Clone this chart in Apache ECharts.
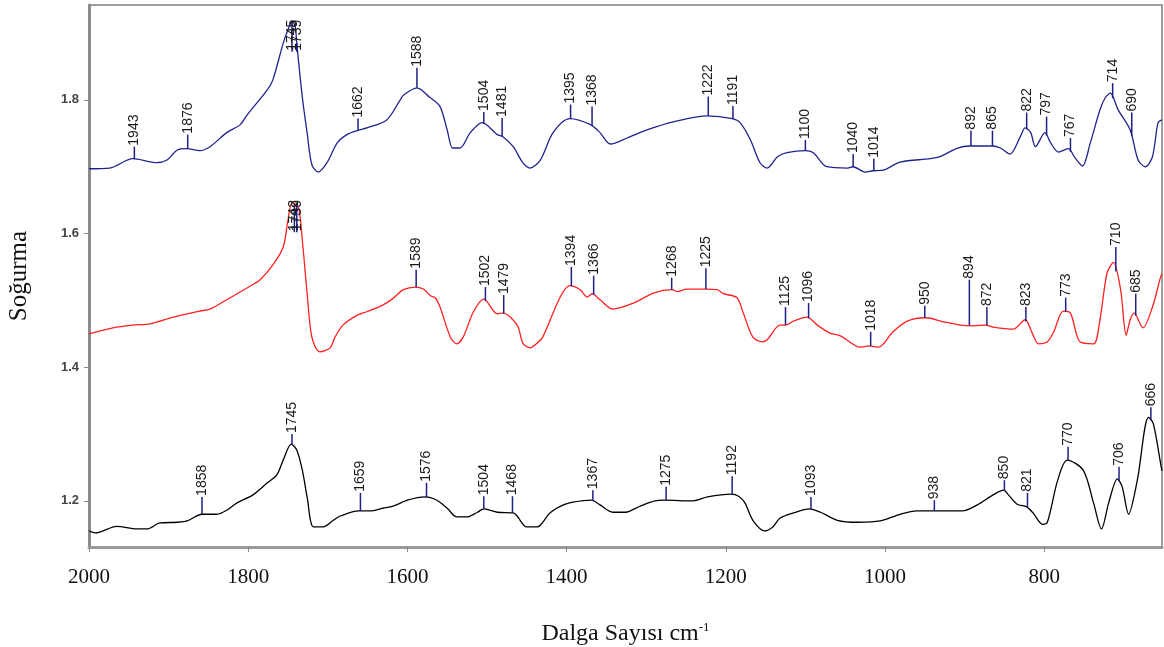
<!DOCTYPE html>
<html>
<head>
<meta charset="utf-8">
<script src="https://cdn.jsdelivr.net/npm/echarts@6/dist/echarts.min.js"></script>
<style>
  html, body { margin: 0; padding: 0; background: #fff; }
  #chart { width: 1164px; height: 647px; }
</style>
</head>
<body>
<div id="chart"></div>
<script>
// spectra: [wavenumber, absorbance]
var blueSpectrum = [[2000,1.697],[1974,1.698],[1945,1.712],[1915,1.706],[1902,1.710],[1889,1.725],[1877,1.727],[1861,1.724],[1848,1.730],[1827,1.751],
  [1810,1.763],[1801,1.778],[1776,1.815],[1769,1.830],[1756,1.885],[1750,1.905],[1745,1.918],[1741,1.910],[1739,1.885],[1732,1.804],
  [1726,1.751],[1720,1.703],[1712,1.692],[1701,1.706],[1688,1.736],[1676,1.748],[1663,1.754],[1651,1.758],[1626,1.770],[1609,1.800],
  [1605,1.807],[1588,1.818],[1572,1.804],[1559,1.790],[1550,1.755],[1543,1.728],[1534,1.728],[1521,1.751],[1506,1.766],[1487,1.748],
  [1480,1.745],[1467,1.730],[1455,1.706],[1446,1.698],[1433,1.710],[1417,1.751],[1396,1.772],[1370,1.763],[1358,1.751],[1345,1.734],
  [1324,1.743],[1299,1.755],[1266,1.767],[1223,1.776],[1192,1.772],[1182,1.766],[1169,1.740],[1157,1.706],[1148,1.698],[1135,1.715],
  [1123,1.721],[1100,1.724],[1090,1.721],[1073,1.700],[1047,1.698],[1040,1.700],[1025,1.692],[1015,1.694],[1002,1.695],[981,1.707],
  [943,1.712],[931,1.715],[909,1.728],[893,1.731],[865,1.731],[855,1.728],[843,1.719],[830,1.745],[824,1.758],[817,1.751],
  [811,1.730],[799,1.751],[792,1.736],[782,1.722],[770,1.727],[761,1.713],[752,1.701],[742,1.736],[730,1.785],[723,1.804],
  [717,1.810],[707,1.785],[692,1.755],[682,1.710],[673,1.700],[664,1.715],[657,1.766],[652,1.770]];

var redSpectrum = [[2000,1.450],[1970,1.459],[1945,1.463],[1923,1.465],[1894,1.475],[1861,1.484],[1848,1.487],[1827,1.501],[1801,1.519],[1785,1.531],
  [1769,1.553],[1756,1.580],[1750,1.620],[1745,1.646],[1737,1.640],[1732,1.590],[1726,1.511],[1720,1.445],[1710,1.423],[1697,1.429],
  [1691,1.445],[1681,1.463],[1663,1.478],[1651,1.483],[1631,1.493],[1618,1.503],[1605,1.516],[1590,1.520],[1580,1.517],[1571,1.507],
  [1565,1.504],[1559,1.490],[1546,1.445],[1538,1.435],[1530,1.445],[1517,1.483],[1504,1.502],[1487,1.480],[1480,1.481],[1462,1.463],
  [1455,1.436],[1446,1.429],[1437,1.436],[1430,1.445],[1408,1.505],[1396,1.522],[1383,1.516],[1374,1.505],[1368,1.510],[1358,1.501],
  [1342,1.487],[1316,1.496],[1291,1.511],[1267,1.516],[1261,1.513],[1249,1.517],[1226,1.517],[1211,1.516],[1203,1.510],[1186,1.504],
  [1178,1.481],[1166,1.445],[1154,1.438],[1148,1.441],[1132,1.463],[1125,1.463],[1115,1.469],[1098,1.475],[1085,1.463],[1069,1.451],
  [1056,1.447],[1031,1.430],[1020,1.432],[1008,1.430],[990,1.453],[972,1.469],[949,1.474],[927,1.468],[905,1.463],[889,1.462],
  [874,1.463],[864,1.460],[839,1.457],[824,1.471],[815,1.451],[807,1.435],[796,1.438],[788,1.453],[776,1.484],[767,1.481],
  [755,1.438],[738,1.435],[730,1.471],[721,1.541],[713,1.557],[704,1.516],[697,1.448],[692,1.471],[687,1.481],[676,1.459],
  [664,1.490],[654,1.534],[652,1.540]];

var blackSpectrum = [[2000,1.155],[1992,1.152],[1965,1.162],[1940,1.158],[1927,1.158],[1911,1.167],[1889,1.168],[1877,1.170],[1858,1.180],[1839,1.180],
  [1827,1.186],[1814,1.197],[1794,1.209],[1776,1.227],[1764,1.239],[1756,1.261],[1746,1.285],[1739,1.276],[1732,1.246],[1726,1.206],
  [1718,1.161],[1706,1.161],[1693,1.171],[1685,1.177],[1661,1.185],[1647,1.185],[1631,1.189],[1618,1.192],[1600,1.201],[1578,1.206],
  [1563,1.201],[1550,1.189],[1538,1.176],[1525,1.176],[1512,1.183],[1504,1.188],[1487,1.183],[1467,1.182],[1450,1.161],[1437,1.161],
  [1421,1.182],[1404,1.194],[1392,1.198],[1369,1.201],[1358,1.194],[1342,1.183],[1326,1.183],[1308,1.192],[1289,1.200],[1277,1.201],
  [1241,1.200],[1223,1.206],[1193,1.210],[1184,1.207],[1176,1.197],[1166,1.171],[1151,1.155],[1141,1.161],[1132,1.174],[1115,1.182],
  [1095,1.188],[1081,1.183],[1060,1.171],[1035,1.168],[1006,1.170],[981,1.180],[960,1.185],[939,1.185],[903,1.185],[884,1.194],
  [864,1.209],[851,1.216],[845,1.209],[834,1.195],[822,1.191],[814,1.182],[802,1.165],[796,1.168],[783,1.231],[771,1.261],
  [751,1.246],[738,1.197],[728,1.158],[719,1.197],[708,1.233],[702,1.221],[694,1.180],[683,1.231],[669,1.325],[663,1.316],
  [653,1.251],[652,1.245]];

// peak labels: [wavenumber, top of the marker line]
var bluePeaks = [[1943,1.730],[1876,1.748],[1745,1.872],[1739,1.872],[1662,1.772],[1588,1.848],[1504,1.782],[1481,1.773],
  [1395,1.793],[1368,1.790],[1222,1.805],[1191,1.791],[1100,1.740],[1040,1.719],[1014,1.712],[892,1.754],[865,1.754],
  [822,1.781],[797,1.775],[767,1.743],[714,1.825],[690,1.781]];
var redPeaks = [[1742,1.602],[1739,1.602],[1589,1.546],[1502,1.520],[1479,1.508],[1394,1.550],[1366,1.537],[1268,1.534],
  [1225,1.548],[1125,1.490],[1096,1.496],[1018,1.453],[950,1.492],[894,1.531],[872,1.490],[823,1.490],[773,1.504],
  [710,1.580],[685,1.510]];
var blackPeaks = [[1858,1.206],[1745,1.300],[1659,1.212],[1576,1.227],[1504,1.207],[1468,1.207],[1367,1.216],[1275,1.221],
  [1192,1.237],[1093,1.206],[938,1.201],[850,1.231],[821,1.212],[770,1.281],[706,1.251],[666,1.340]];

var xTicks = [2000, 1800, 1600, 1400, 1200, 1000, 800];
var yTicks = [1.2, 1.4, 1.6, 1.8];

function interp(spec, w) {
  for (var i = 0; i < spec.length - 1; i++) {
    var a = spec[i], b = spec[i + 1];
    if (w <= a[0] && w >= b[0]) {
      var t = (a[0] - w) / (a[0] - b[0]);
      return a[1] + (b[1] - a[1]) * t;
    }
  }
  return spec[spec.length - 1][1];
}

function lineSeries(spec, color) {
  return {
    type: 'line',
    data: spec,
    showSymbol: false,
    smooth: 0.3,
    lineStyle: { color: color, width: 1.3 },
    z: 2
  };
}

function peakSeries(peaks, spec) {
  return {
    type: 'custom',
    data: peaks,
    z: 5,
    renderItem: function (params, api) {
      var w = api.value(0), top = api.value(1);
      var p0 = api.coord([w, interp(spec, w)]);
      var p1 = api.coord([w, top]);
      return {
        type: 'group',
        children: [{
          type: 'line',
          shape: { x1: p0[0], y1: p0[1], x2: p1[0], y2: p1[1] },
          style: { stroke: '#1f1f86', lineWidth: 1.5 }
        }, {
          type: 'text',
          x: p1[0],
          y: p1[1] - 1,
          rotation: Math.PI / 2,
          style: {
            text: String(w),
            x: 0, y: 0,
            align: 'left',
            verticalAlign: 'middle',
            font: '14px "Liberation Sans", Arial, sans-serif',
            fill: '#1a1a1a'
          }
        }]
      };
    }
  };
}

var chart = echarts.init(document.getElementById('chart'));
chart.setOption({
  animation: false,
  backgroundColor: '#fff',
  grid: {
    left: 89, right: 2, top: 5, bottom: 100,
    containLabel: false,
    outerBoundsMode: 'none',
    show: true, borderColor: '#a0a0a0', borderWidth: 2
  },
  xAxis: {
    type: 'value',
    inverse: true,
    min: 652,
    max: 2000,
    name: '{n|Dalga Sayısı cm}{s|-1}',
    nameLocation: 'middle',
    nameGap: 74,
    nameTextStyle: {
      rich: {
        n: { fontFamily: '"Liberation Serif", "Times New Roman", serif', fontSize: 24, color: '#111' },
        s: { fontFamily: '"Liberation Serif", "Times New Roman", serif', fontSize: 13, color: '#111', verticalAlign: 'top', padding: [0, 0, 12, 0] }
      }
    },
    axisLine: { lineStyle: { color: '#999', width: 3 } },
    axisTick: { length: 5, customValues: xTicks, lineStyle: { color: '#888' } },
    axisLabel: {
      customValues: xTicks,
      margin: 20,
      formatter: function (v) { return String(v); },
      fontFamily: '"Liberation Serif", "Times New Roman", serif',
      fontSize: 21,
      color: '#111'
    },
    splitLine: { show: false }
  },
  yAxis: {
    type: 'value',
    min: 1.131,
    max: 1.942,
    name: 'Soğurma',
    nameLocation: 'middle',
    nameRotate: 90,
    nameGap: 57,
    nameTextStyle: { fontFamily: '"Liberation Serif", "Times New Roman", serif', fontSize: 25, color: '#111' },
    axisLine: { show: true, lineStyle: { color: '#8c8c8c', width: 3 } },
    axisTick: { show: true, length: 5, customValues: yTicks, lineStyle: { color: '#888' } },
    axisLabel: {
      customValues: yTicks,
      margin: 10,
      formatter: function (v) { return v.toFixed(1); },
      fontFamily: '"Liberation Sans", Arial, sans-serif',
      fontSize: 13,
      fontWeight: 'bold',
      color: '#444'
    },
    splitLine: { show: false }
  },
  series: [
    lineSeries(blueSpectrum, '#22228f'),
    lineSeries(redSpectrum, '#ff2020'),
    lineSeries(blackSpectrum, '#000000'),
    peakSeries(bluePeaks, blueSpectrum),
    peakSeries(redPeaks, redSpectrum),
    peakSeries(blackPeaks, blackSpectrum)
  ]
});
</script>
</body>
</html>
